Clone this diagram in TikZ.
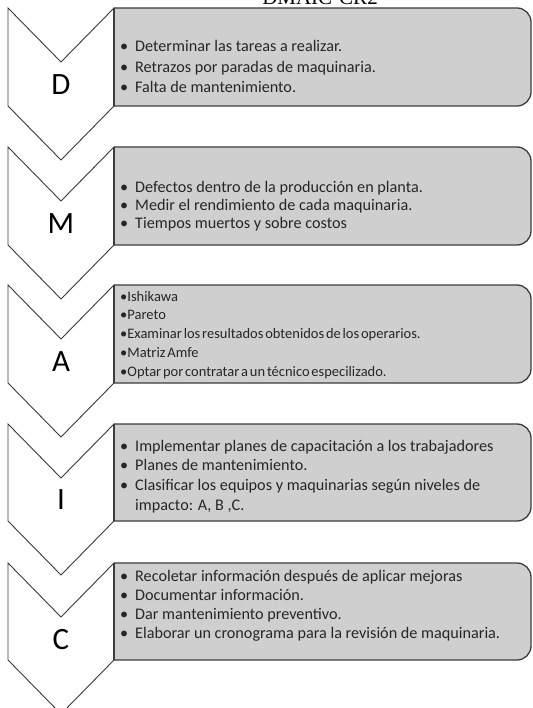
\documentclass[tikz,border=0pt]{standalone}
\usepackage{fontspec}
\setmainfont{Carlito}
\newfontfamily\titlefont{Liberation Serif}
\newfontfamily\tightfont[WordSpace=0.55]{Carlito}
\usetikzlibrary{positioning}

\definecolor{boxgray}{HTML}{CFCFCF}
\definecolor{boxline}{HTML}{3C3C3C}
\definecolor{chevline}{HTML}{3A3A3A}

\newcommand{\itm}{\makebox[15pt][l]{•}}
\newcommand{\itmA}{•}

\tikzset{
  chev/.style={draw=chevline, line width=0.9pt, fill=white, line join=miter},
  infobox/.style={draw=boxline, line width=1.3pt, fill=boxgray, rounded corners=14pt},
  boxedge/.style={draw=boxline, line width=1.3pt},
  letter/.style={font=\fontsize{31}{31}\selectfont, inner sep=0pt},
  items/.style={align=left, inner sep=0pt, anchor=base west, text=black!85}
}

\begin{document}
\begin{tikzpicture}[x=1pt, y=-1pt]
\useasboundingbox (0,0) rectangle (532,708);

\node[font=\titlefont\fontsize{21}{21}\selectfont, anchor=base] (title) at (320,5) {DMAIC-CR2};

% D
\draw[chev] (8,8) -- (61,62) -- (114,8) -- (114,106) -- (61,160) -- (8,106) -- cycle;
\filldraw[infobox] (114,8) -- (531,8) -- (531,106) -- (114,106);
\draw[boxedge] (114,8) -- (114,106);
\node[letter] (d) at (61,85) {D};
\node[items, font=\fontsize{16.2}{20.8}\selectfont] (dtext) at (120,93)
  {\itm Determinar las tareas a realizar.\\
   \itm Retrazos por paradas de maquinaria.\\
   \itm Falta de mantenimiento.};

% M
\draw[chev] (8,147) -- (61,201) -- (114,147) -- (114,245) -- (61,299) -- (8,245) -- cycle;
\filldraw[infobox] (114,147) -- (531,147) -- (531,245) -- (114,245);
\draw[boxedge] (114,147) -- (114,245);
\node[letter] (m) at (61,224) {M};
\node[items, font=\fontsize{16.2}{18.2}\selectfont] (mtext) at (120,229)
  {\itm Defectos dentro de la producción en planta.\\
   \itm Medir el rendimiento de cada maquinaria.\\
   \itm Tiempos muertos y sobre costos};

% A
\draw[chev] (8,285) -- (61,339) -- (114,285) -- (114,383) -- (61,437) -- (8,383) -- cycle;
\filldraw[infobox] (114,285) -- (531,285) -- (531,383) -- (114,383);
\draw[boxedge] (114,285) -- (114,383);
\node[letter] (a) at (61,362) {A};
\node[items, font=\tightfont\fontsize{14.5}{18.7}\selectfont] (atext) at (120,376)
  {\itmA Ishikawa\\
   \itmA Pareto\\
   \itmA Examinar los resultados obtenidos de los operarios.\\
   \itmA Matriz Amfe\\
   \itmA Optar por contratar a un técnico especilizado.};

% I
\draw[chev] (8,424) -- (61,478) -- (114,424) -- (114,521) -- (61,575) -- (8,521) -- cycle;
\filldraw[infobox] (114,424) -- (531,424) -- (531,521) -- (114,521);
\draw[boxedge] (114,424) -- (114,521);
\node[letter] (i) at (61,500) {I};
\node[items, font=\fontsize{16.2}{19.6}\selectfont] (itext) at (120,510)
  {\itm Implementar planes de capacitación a los trabajadores\\
   \itm Planes de mantenimiento.\\
   \itm Clasificar los equipos y maquinarias según niveles de\\
   \hspace*{15pt}impacto: A, B ,C.};

% C
\draw[chev] (8,563) -- (61,617) -- (114,563) -- (114,660) -- (61,714) -- (8,660) -- cycle;
\filldraw[infobox] (114,563) -- (531,563) -- (531,660) -- (114,660);
\draw[boxedge] (114,563) -- (114,660);
\node[letter] (c) at (61,640) {C};
\node[items, font=\fontsize{16.2}{18.7}\selectfont] (ctext) at (120,638)
  {\itm Recoletar información después de aplicar mejoras\\
   \itm Documentar información.\\
   \itm Dar mantenimiento preventivo.\\
   \itm Elaborar un cronograma para la revisión de maquinaria.};

\end{tikzpicture}
\end{document}
